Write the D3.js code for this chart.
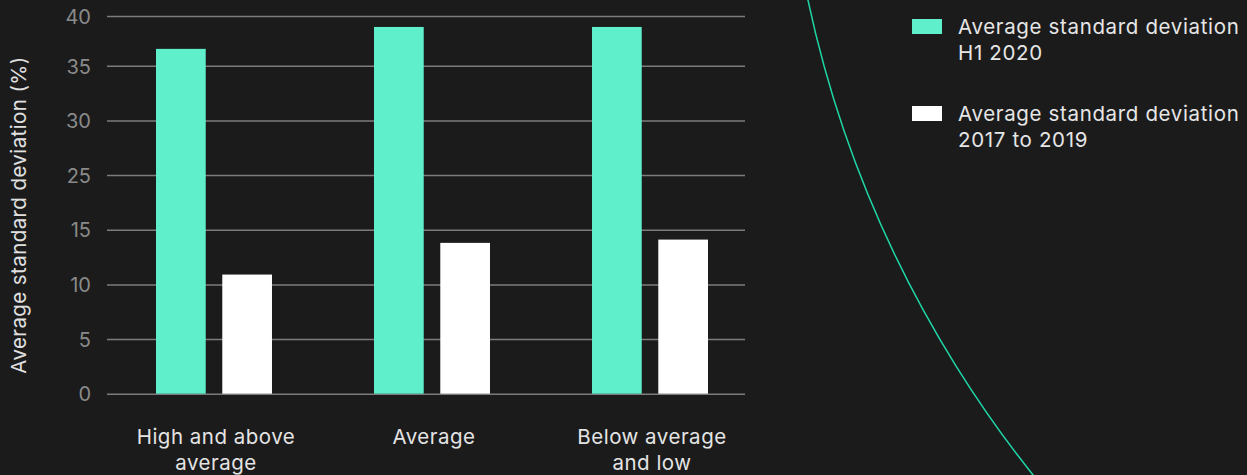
<!DOCTYPE html>
<html>
<head>
<meta charset="utf-8">
<script src="https://cdn.jsdelivr.net/npm/d3@7"></script>
<style>
  html, body { margin: 0; padding: 0; background: #1b1b1b; }
  svg { display: block; }
  text { font-family: Inter, "Open Sans", sans-serif; }
</style>
</head>
<body>
<svg id="chart" width="1247" height="475"></svg>
<script>
// ---- data ----
const categories = [["High and above", "average"], ["Average"], ["Below average", "and low"]];
const categoryKeys = ["High and above average", "Average", "Below average and low"];
const seriesNames = ["Average standard deviation H1 2020", "Average standard deviation 2017 to 2019"];
const legendLines = [["Average standard deviation", "H1 2020"], ["Average standard deviation", "2017 to 2019"]];
const valuesH1_2020 = [36.7, 38.9, 38.9];
const values2017_2019 = [10.9, 13.8, 14.1];
const yTickLabels = [0, 5, 10, 15, 25, 30, 35, 40];
const yAxisTitle = "Average standard deviation (%)";

// ---- layout ----
const W = 1247, H = 475;
const gridX0 = 107, gridX1 = 745;
const yZero = 393.7, yStep = 54.65, yTop = 16;
const colors = ["#5ff0cb", "#ffffff"];

const svg = d3.select("#chart");
svg.append("rect").attr("width", W).attr("height", H).attr("fill", "#1b1b1b");

// decorative arc
const arcCx = 1926.6, arcCy = -239.6, arcR = 1144;
const p = d3.path();
p.arc(arcCx, arcCy, arcR, Math.PI * 0.945, Math.PI * 0.7, true);
svg.append("path").attr("d", p.toString())
  .attr("fill", "none").attr("stroke", "#1fd6a6").attr("stroke-width", 1.5);

// y scale: follows the (irregular) labelled gridlines of the original
const yRange = yTickLabels.map((t, i) => i < yTickLabels.length - 1 ? yZero - i * yStep : yTop);
const y = d3.scaleLinear().domain(yTickLabels).range(yRange);

const yAxis = d3.axisLeft(y).tickValues(yTickLabels).tickSize(0).tickPadding(0).tickFormat(d3.format("d"));
const gy = svg.append("g").attr("transform", `translate(${gridX0},0)`).call(yAxis);
gy.select(".domain").remove();
gy.selectAll(".tick text")
  .attr("x", -16).attr("dy", "0.36em")
  .attr("fill", "#8a8a8a").style("font-size", "20px").style("font-family", "Inter, sans-serif");
gy.selectAll(".tick").append("line")
  .attr("x1", 0).attr("x2", gridX1 - gridX0)
  .attr("stroke", "#7c7c7c").attr("stroke-width", 1.5);

// x scales
const x = d3.scaleBand().domain(categoryKeys).range([105, 759]).paddingInner(0.468).paddingOuter(0.234);
const xs = d3.scaleBand().domain([0, 1]).range([0, x.bandwidth()]).paddingInner(0.25);

const rows = categoryKeys.map((k, i) => ({ key: k, vals: [valuesH1_2020[i], values2017_2019[i]] }));
const groups = svg.append("g").selectAll("g").data(rows).join("g")
  .attr("transform", d => `translate(${x(d.key)},0)`);
groups.selectAll("rect").data(d => d.vals.map((v, j) => ({ v, j }))).join("rect")
  .attr("x", d => xs(d.j))
  .attr("width", xs.bandwidth())
  .attr("y", d => y(d.v))
  .attr("height", d => y(0) - y(d.v))
  .attr("fill", d => colors[d.j]);

// x category labels
const xl = svg.append("g");
categories.forEach((lines, i) => {
  const cx = x(categoryKeys[i]) + x.bandwidth() / 2 + 2;
  const t = xl.append("text")
    .attr("x", cx)
    .attr("y", 444.3)
    .attr("text-anchor", "middle")
    .attr("fill", "#e4e4e4")
    .style("font-size", "20.5px").style("letter-spacing", "0.5px");
  lines.forEach((ln, k) => t.append("tspan").attr("x", cx).attr("dy", k === 0 ? 0 : 26).text(ln));
});

// y axis title
svg.append("text")
  .attr("transform", "translate(26,215) rotate(-90)")
  .attr("text-anchor", "middle")
  .attr("fill", "#e0e0e0")
  .style("font-size", "20.5px").style("letter-spacing", "0.4px")
  .text(yAxisTitle);

// legend
const legendY = [19, 106];
const lg = svg.append("g");
seriesNames.forEach((name, i) => {
  lg.append("rect").attr("x", 912).attr("y", legendY[i]).attr("width", 30).attr("height", 15).attr("fill", colors[i]);
  const t = lg.append("text").attr("x", 958).attr("y", legendY[i] + 14.5)
    .attr("fill", "#e6e6e6").style("font-size", "20.5px").style("letter-spacing", "0.65px");
  legendLines[i].forEach((ln, k) => t.append("tspan").attr("x", 958).attr("dy", k === 0 ? 0 : 26.5).text(ln));
});
</script>
</body>
</html>
